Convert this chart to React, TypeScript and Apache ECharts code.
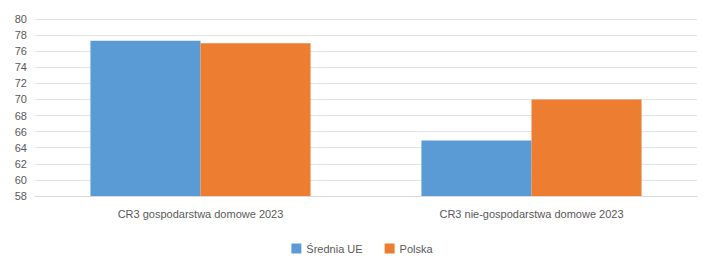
import React, { useEffect, useRef } from "react";
import * as echarts from "echarts";

const categories = ["CR3 gospodarstwa domowe 2023", "CR3 nie-gospodarstwa domowe 2023"];
const sredniaUE = [77.3, 64.9];
const polska = [77.0, 70.0];
const seriesNames = ["Średnia UE", "Polska"];

export default function App() {
  const ref = useRef<HTMLDivElement>(null);
  useEffect(() => {
    const chart = echarts.init(ref.current!, null, { renderer: "svg" });
    const font = "Liberation Sans";
    chart.setOption({
      animation: false,
      backgroundColor: "#ffffff",
      grid: { left: 35, right: 27, top: 19, bottom: 67, containLabel: false },
      legend: {
        bottom: 4,
        left: "center",
        itemWidth: 10,
        itemHeight: 10,
        itemGap: 22,
        icon: "rect",
        textStyle: { color: "#595959", fontSize: 11, fontFamily: font },
        data: seriesNames,
      },
      xAxis: {
        type: "category",
        data: categories,
        axisLine: { show: true, lineStyle: { color: "#d9d9d9" } },
        axisTick: { show: false },
        axisLabel: { color: "#595959", fontSize: 11, fontFamily: font, margin: 12 },
      },
      yAxis: {
        type: "value",
        min: 58,
        max: 80,
        interval: 2,
        axisLine: { show: false },
        axisTick: { show: false },
        axisLabel: { color: "#595959", fontSize: 11, fontFamily: font, margin: 8 },
        splitLine: { lineStyle: { color: "#e3e3e3" } },
      },
      series: [
        {
          name: seriesNames[0],
          type: "bar",
          data: sredniaUE,
          barCategoryGap: "33.5%",
          barGap: "0%",
          itemStyle: { color: "#5b9bd5" },
        },
        {
          name: seriesNames[1],
          type: "bar",
          data: polska,
          barCategoryGap: "33.5%",
          barGap: "0%",
          itemStyle: { color: "#ed7d31" },
        },
      ],
    });
    return () => chart.dispose();
  }, []);
  return <div ref={ref} style={{ width: 724, height: 263, margin: -8 }} />;
}
